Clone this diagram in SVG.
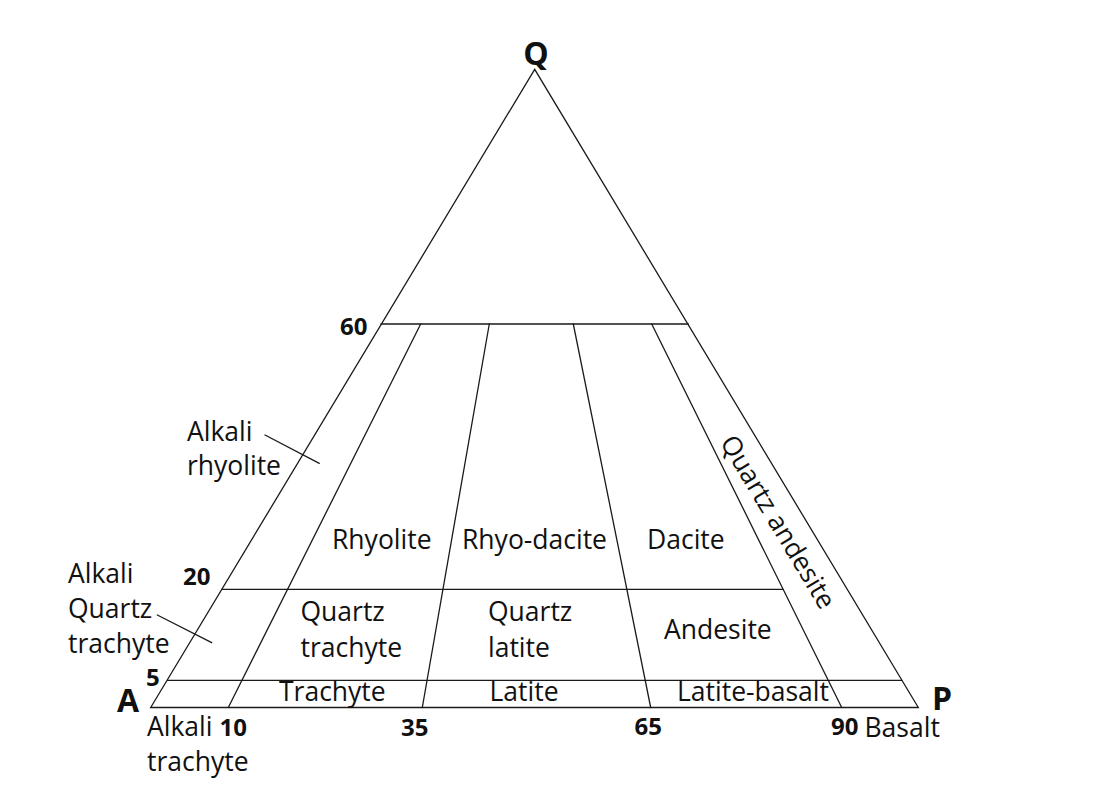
<svg xmlns="http://www.w3.org/2000/svg" width="1097" height="803" viewBox="0 0 1097 803">
<style>
.ln{stroke:#1a1a1a;stroke-width:1.3;fill:none;stroke-linecap:round}
.t{font-family:"Open Sans","Liberation Sans",sans-serif;font-size:26.5px;fill:#111}
.n{font-family:"Open Sans","Liberation Sans",sans-serif;font-size:24px;font-weight:bold;fill:#111}
.v{font-family:"Open Sans","Liberation Sans",sans-serif;font-size:32px;font-weight:bold;fill:#111}
</style>
<rect width="1097" height="803" fill="#fff"/>
<g id="connectors">
<polygon class="ln" points="534.7,69.3 150.7,707.5 918.3,707.5"/>
<line class="ln" x1="381" y1="324" x2="688.3" y2="324"/>
<line class="ln" x1="222" y1="589.3" x2="783" y2="589.3"/>
<line class="ln" x1="167.5" y1="680.3" x2="901.8" y2="680.3"/>
<line class="ln" x1="228.3" y1="707.5" x2="420.7" y2="324"/>
<line class="ln" x1="422.3" y1="707.5" x2="489.3" y2="324"/>
<line class="ln" x1="650.7" y1="707.5" x2="573.3" y2="324"/>
<line class="ln" x1="841.7" y1="707.5" x2="651.7" y2="324"/>
<line class="ln" x1="265" y1="435" x2="319.3" y2="463.3"/>
<line class="ln" x1="157.3" y1="615" x2="211.7" y2="642.7"/>
</g>
<g id="vertex-Q"><text class="v" x="536" y="65" text-anchor="middle">Q</text></g>
<g id="vertex-A"><text class="v" x="117" y="711.5">A</text></g>
<g id="vertex-P"><text class="v" x="932" y="710">P</text></g>
<g id="ticks">
<text class="n" x="340" y="335">60</text>
<text class="n" x="183" y="585">20</text>
<text class="n" x="146" y="685.5">5</text>
<text class="n" x="219.5" y="736">10</text>
<text class="n" x="401" y="736">35</text>
<text class="n" x="634.5" y="735">65</text>
<text class="n" x="831" y="735">90</text>
</g>
<g id="alkali-rhyolite"><text class="t" x="187" y="440.7">Alkali</text><text class="t" x="187" y="475">rhyolite</text></g>
<g id="alkali-quartz-trachyte"><text class="t" x="68" y="583">Alkali</text><text class="t" x="68" y="618">Quartz</text><text class="t" x="68" y="653">trachyte</text></g>
<g id="alkali-trachyte"><text class="t" x="147" y="736">Alkali</text><text class="t" x="147" y="771">trachyte</text></g>
<g id="basalt"><text class="t" x="864.5" y="737">Basalt</text></g>
<g id="rhyolite"><text class="t" x="332" y="549.3">Rhyolite</text></g>
<g id="rhyo-dacite"><text class="t" x="462" y="549.3">Rhyo-dacite</text></g>
<g id="dacite"><text class="t" x="647" y="549.3">Dacite</text></g>
<g id="quartz-andesite"><text class="t" transform="translate(778,522) rotate(59)" x="0" y="9" text-anchor="middle">Quartz andesite</text></g>
<g id="quartz-trachyte"><text class="t" x="300.5" y="621">Quartz</text><text class="t" x="300.5" y="656.5">trachyte</text></g>
<g id="quartz-latite"><text class="t" x="488" y="621">Quartz</text><text class="t" x="488" y="656.5">latite</text></g>
<g id="andesite"><text class="t" x="664" y="639.3">Andesite</text></g>
<g id="trachyte"><text class="t" x="279" y="700.5">Trachyte</text></g>
<g id="latite"><text class="t" x="489.5" y="701">Latite</text></g>
<g id="latite-basalt"><text class="t" x="677" y="700.5">Latite-basalt</text></g>
</svg>
